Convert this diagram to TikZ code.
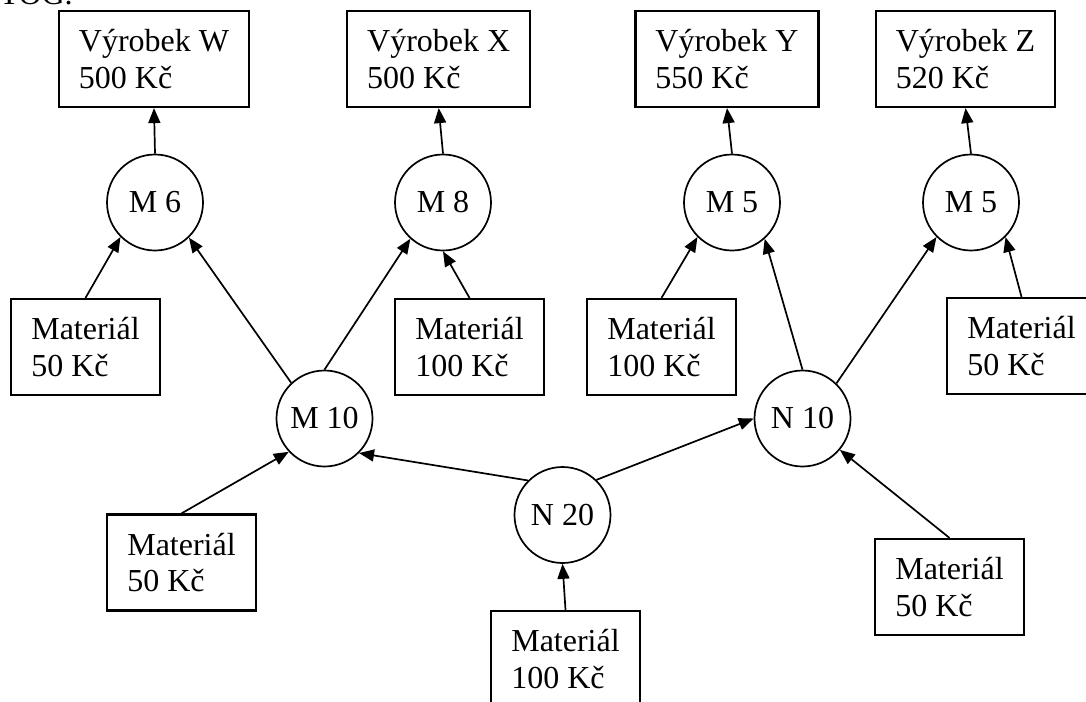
\documentclass[tikz,border=0pt]{standalone}
\usepackage{fontspec}
\setmainfont{Liberation Serif}
\usetikzlibrary{arrows.meta}
\tikzset{
	txt/.style={font=\fontsize{32}{36.5}\selectfont},
	prodbox/.style={txt, draw, line width=2.2pt, rectangle, align=left, inner xsep=20pt, inner ysep=0pt, minimum height=96pt},
	matbox/.style={prodbox, minimum width=149pt},
	opcircle/.style={txt, draw, line width=1.7pt, circle, minimum size=96pt, inner sep=0pt},
	flow/.style={line width=1.7pt, -{Triangle[length=15pt, width=12pt]}}
}

\begin{document}
\begin{tikzpicture}[x=1pt, y=-1pt]
		%%%%% START %%%%%
		\useasboundingbox (0, 0) rectangle (1086, 701);
		\clip (0, 0) rectangle (1086, 701);
		
		\node[txt, anchor=base west] (title) at (-4, 5) {TOG.};
		
		% products
		\node[prodbox] (vw) at (154, 59) {Výrobek W\\500 Kč};
		\node[prodbox] (vx) at (438.7, 59) {Výrobek X\\500 Kč};
		\node[prodbox] (vy) at (727, 59) {Výrobek Y\\550 Kč};
		\node[prodbox] (vz) at (965.5, 59) {Výrobek Z\\520 Kč};
		
		% operations
		\node[opcircle] (m6) at (155, 202.5) {M 6};
		\node[opcircle] (m8) at (443, 202.5) {M 8};
		\node[opcircle] (m5y) at (732, 202.5) {M 5};
		\node[opcircle] (m5z) at (971, 202.5) {M 5};
		\node[opcircle] (m10) at (324.5, 418.5) {M 10};
		\node[opcircle] (n10) at (802.5, 418.5) {N 10};
		\node[opcircle] (n20) at (562.5, 515) {N 20};
		
		% material
		\node[matbox] (mat50a) at (85.5, 347) {Materiál\\50 Kč};
		\node[matbox] (mat100a) at (469.5, 347) {Materiál\\100 Kč};
		\node[matbox] (mat100b) at (661.5, 347) {Materiál\\100 Kč};
		\node[matbox] (mat50b) at (1021.5, 346) {Materiál\\50 Kč};
		\node[matbox] (mat50c) at (181.5, 562.5) {Materiál\\50 Kč};
		\node[matbox] (mat50d) at (949.5, 587) {Materiál\\50 Kč};
		\node[matbox] (mat100c) at (565.5, 659) {Materiál\\100 Kč};
		
		% upper level
		\draw[flow] (m6.north) -- (vw.south);
		\draw[flow] (m8.north) -- (vx.south);
		\draw[flow] (m5y.north) -- (vy.south);
		\draw[flow] (m5z.north) -- (vz.south);
		\draw[flow] (mat50a.north) -- (m6.225);
		\draw[flow] (mat100a.north) -- (m8.south);
		\draw[flow] (mat100b.north) -- (m5y.225);
		\draw[flow] (mat50b.north) -- (m5z.315);
		
		% middle level
		\draw[flow] (m10.133) -- (m6.314);
		\draw[flow] (m10.north) -- (m8.228);
		\draw[flow] (n10.north) -- (m5y.312);
		\draw[flow] (n10.46) -- (m5z.225);
		
		% lower level
		\draw[flow] (n20.135) -- (m10.315);
		\draw[flow] (n20.46) -- (n10.west);
		\draw[flow] (mat50c.north) -- (m10.223);
		\draw[flow] (mat50d.north) -- (n10.320);
		\draw[flow] (mat100c.north) -- (n20.south);
		
		%%%%% END %%%%%
	\end{tikzpicture}
\end{document}
